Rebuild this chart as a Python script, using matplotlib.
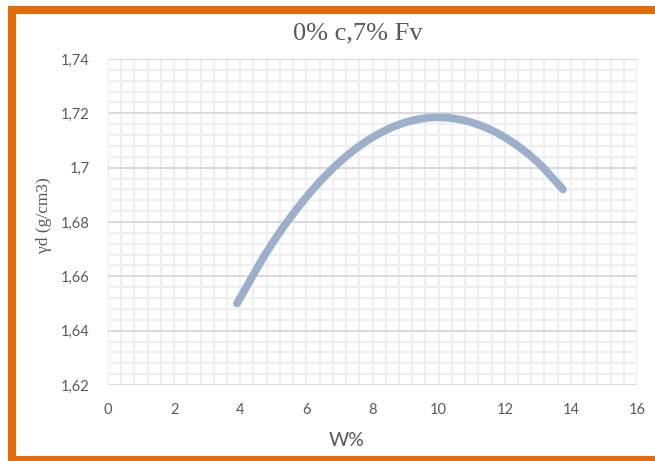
import matplotlib
matplotlib.use("Agg")
import matplotlib.pyplot as plt
from matplotlib.lines import Line2D
import numpy as np

# Data
w_pct = [3.90, 4.90, 5.90, 6.90, 7.90, 8.90, 9.90, 10.90, 11.90, 12.90, 13.76]
gamma_d = [1.6500, 1.6709, 1.6877, 1.7009, 1.7104, 1.7163, 1.7185, 1.7170, 1.7119, 1.7031, 1.6920]

x_ticks = [0, 2, 4, 6, 8, 10, 12, 14, 16]
y_ticks = [1.62, 1.64, 1.66, 1.68, 1.70, 1.72, 1.74]
y_tick_labels = ["1,62", "1,64", "1,66", "1,68", "1,7", "1,72", "1,74"]

title = "0% c,7% Fv"
xlabel = "W%"
ylabel = "γd (g/cm3)"


def smooth_path(xs, ys, n=30):
    """Catmull-Rom curve through the given points (like a smoothed line)."""
    P = np.column_stack([xs, ys]).astype(float)
    P = np.vstack([2 * P[0] - P[1], P, 2 * P[-1] - P[-2]])
    out = []
    t = np.linspace(0, 1, n, endpoint=False)[:, None]
    for i in range(1, len(P) - 2):
        p0, p1, p2, p3 = P[i - 1], P[i], P[i + 1], P[i + 2]
        seg = 0.5 * ((2 * p1) + (-p0 + p2) * t + (2 * p0 - 5 * p1 + 4 * p2 - p3) * t ** 2
                     + (-p0 + 3 * p1 - 3 * p2 + p3) * t ** 3)
        out.append(seg)
    out.append(P[-2][None, :])
    out = np.vstack(out)
    return out[:, 0], out[:, 1]


W, H = 655, 461
fig = plt.figure(figsize=(W / 100, H / 100), dpi=100)
fig.patch.set_facecolor("white")

ax = fig.add_axes([108 / W, 1 - 385 / H, (637 - 108) / W, (385 - 59) / H])
ax.set_xlim(0, 16)
ax.set_ylim(1.62, 1.74)

# grid
for xv in np.arange(0, 16.001, 0.4):
    ax.axvline(xv, color="#efefef", lw=1.5, zorder=0)
for yv in np.arange(1.62, 1.7401, 0.004):
    ax.axhline(yv, color="#efefef", lw=1.5, zorder=0)
for yv in y_ticks:
    ax.axhline(yv, color="#d9d9d9", lw=1.3, zorder=0.5)

for s in ax.spines.values():
    s.set_visible(False)

sx, sy = smooth_path(w_pct, gamma_d)
ax.plot(sx, sy, color="#9bb0cb", lw=5.6, solid_capstyle="round",
        solid_joinstyle="round", zorder=3)

ax.set_xticks(x_ticks)
ax.set_xticklabels([str(v) for v in x_ticks])
ax.set_yticks(y_ticks)
ax.set_yticklabels(y_tick_labels)
ax.tick_params(length=0, labelsize=10.5, labelcolor="#595959", pad=13)
for lab in ax.get_xticklabels() + ax.get_yticklabels():
    lab.set_fontfamily("Lato")

fig.text(347 / W, 1 - 440 / H, xlabel, ha="center", va="center",
         fontsize=14, color="#595959", family="Lato")
fig.text(44 / W, 1 - 215 / H, ylabel, ha="center", va="center", rotation=90,
         fontsize=12.5, color="#595959", family="Liberation Serif")
fig.text(358 / W, 1 - 33 / H, title, ha="center", va="center",
         fontsize=19, color="#595959", family="Liberation Serif")

# orange frame
orange = "#e36c09"
def px_line(x0, y0, x1, y1, lw):
    fig.add_artist(Line2D([x0 / W, x1 / W], [1 - y0 / H, 1 - y1 / H],
                          transform=fig.transFigure, color=orange, lw=lw,
                          solid_capstyle="projecting"))
px_line(12, 10, 660, 10, 5.8)
px_line(12, 10, 12, 460, 5.8)
px_line(12, 460, 660, 460, 5.8)

fig.savefig("out.png", dpi=100, facecolor="white")
